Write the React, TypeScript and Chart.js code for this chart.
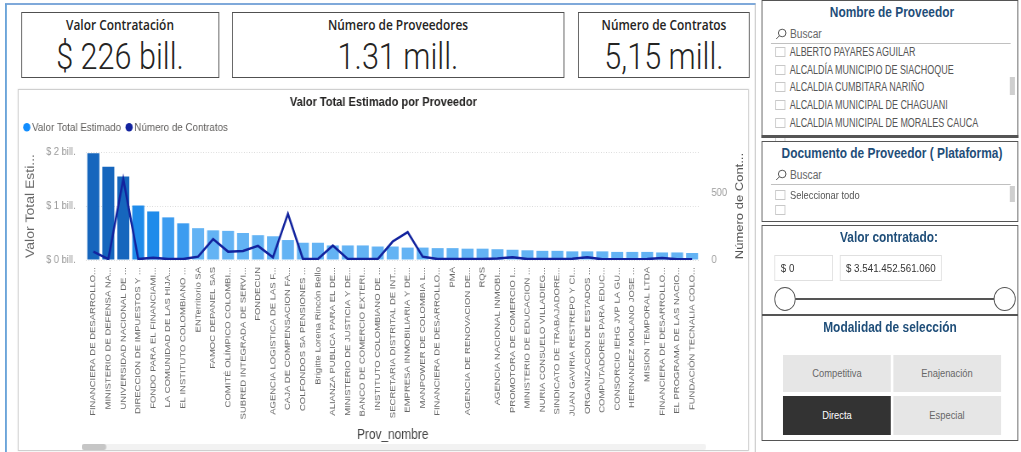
import React, { useEffect, useRef } from "react";
import { Chart, registerables } from "chart.js";
Chart.register(...registerables);

const proveedores = [
  "FINANCIERA DE DESARROLLO...",
  "MINISTERIO DE DEFENSA NA...",
  "UNIVERSIDAD NACIONAL DE ...",
  "DIRECCION DE IMPUESTOS Y ...",
  "FONDO PARA EL FINANCIAMI...",
  "LA COMUNIDAD DE LAS HIJA...",
  "EL INSTITUTO COLOMBIANO ...",
  "ENTerritorio SA",
  "FAMOC DEPANEL SAS",
  "COMITÉ OLÍMPICO COLOMBI...",
  "SUBRED INTEGRADA DE SERVI...",
  "FONDECUN",
  "AGENCIA LOGISTICA DE LAS F...",
  "CAJA DE COMPENSACION FA...",
  "COLFONDOS SA PENSIONES ...",
  "Brigitte Lorena Rincón Bello",
  "ALIANZA PUBLICA PARA EL DE...",
  "MINISTERIO DE JUSTICIA Y DE...",
  "BANCO DE COMERCIO EXTERI...",
  "INSTITUTO COLOMBIANO DE ...",
  "SECRETARIA DISTRITAL DE INT...",
  "EMPRESA INMOBILIARIA Y DE...",
  "MANPOWER DE COLOMBIA L...",
  "FINANCIERA DE DESARROLLO...",
  "PMA",
  "AGENCIA DE RENOVACION DE...",
  "RQS",
  "AGENCIA NACIONAL INMOBI...",
  "PROMOTORA DE COMERCIO I...",
  "MINISTERIO DE EDUCACION ...",
  "NURIA CONSUELO VILLADIEG...",
  "SINDICATO DE TRABAJADORE...",
  "JUAN GAVIRIA RESTREPO Y CI...",
  "ORGANIZACION DE ESTADOS ...",
  "COMPUTADORES PARA EDUC...",
  "CONSORCIO IEHG JVP LA GU...",
  "HERNANDEZ MOLANO JOSE ...",
  "MISION TEMPORAL LTDA",
  "FINANCIERA DE DESARROLLO...",
  "EL PROGRAMA DE LAS NACIO...",
  "FUNDACIÓN TECNALIA COLO...",
];

// Valor Total Estimado (billones)
const valorTotal = [
  1.98, 1.73, 1.55, 1.01, 0.9, 0.79, 0.68, 0.59, 0.55, 0.54, 0.5, 0.46, 0.44,
  0.37, 0.32, 0.32, 0.27, 0.27, 0.27, 0.25, 0.25, 0.23, 0.23, 0.22, 0.22, 0.21,
  0.21, 0.2, 0.19, 0.18, 0.17, 0.17, 0.16, 0.16, 0.16, 0.15, 0.15, 0.15, 0.14,
  0.14, 0.13,
];

// Número de Contratos
const numContratos = [
  62, 7, 600, 7, 17, 7, 7, 25, 155, 62, 67, 105, 20, 342, 7, 7, 107, 7, 7, 7,
  137, 207, 25, 7, 7, 7, 7, 12, 20, 7, 7, 7, 10, 20, 5, 5, 5, 7, 15, 5, 5,
];

const leftTicks = [0, 1, 2];
const rightTicks = [0, 500];

const kpiTitles = ["Valor Contratación", "Número de Proveedores", "Número de Contratos"];
const kpiValues = ["$ 226 bill.", "1.31 mill.", "5,15 mill."];

const listaProveedores = [
  "ALBERTO PAYARES AGUILAR",
  "ALCALDÍA MUNICIPIO DE SIACHOQUE",
  "ALCALDIA CUMBITARA NARIÑO",
  "ALCALDIA MUNICIPAL DE CHAGUANI",
  "ALCALDIA MUNICIPAL DE MORALES CAUCA",
];
const modalidades = ["Competitiva", "Enajenación", "Directa", "Especial"];

// the whole dashboard is laid out wide and squeezed horizontally
const K = 0.85;
const X = (v: number) => v / K;

const SANS = "'Liberation Sans', Arial, sans-serif";
const SLICER_BLUE = "#1F4E79";

const CW = 858; // canvas width (before squeeze)
const CH = 356; // canvas height

function barColor(v: number) {
  if (v >= 1.5) return "#1666BD";
  if (v >= 0.85) return "#1F8BEA";
  if (v >= 0.6) return "#3C9CF0";
  return "#63B3F4";
}

const rightTitlePlugin = {
  id: "rightTitle",
  afterDraw(chart: any) {
    const s = chart.scales.y1;
    const ca = chart.chartArea;
    const ctx = chart.ctx;
    ctx.save();
    ctx.translate(s.right - 10, (ca.top + ca.bottom) / 2);
    ctx.rotate(-Math.PI / 2);
    ctx.textAlign = "center";
    ctx.textBaseline = "middle";
    ctx.fillStyle = "#555";
    ctx.font = `13px ${SANS}`;
    ctx.fillText("Número de Cont...", 0, 0);
    ctx.restore();
  },
};

function ChartPanel() {
  const ref = useRef<HTMLCanvasElement | null>(null);
  useEffect(() => {
    if (!ref.current) return;
    const chart = new Chart(ref.current, {
      type: "bar",
      data: {
        labels: proveedores,
        datasets: [
          {
            type: "bar",
            label: "Valor Total Estimado",
            data: valorTotal,
            yAxisID: "y",
            backgroundColor: valorTotal.map(barColor),
            barPercentage: 0.8,
            categoryPercentage: 1,
            order: 2,
          } as any,
          {
            type: "line",
            label: "Número de Contratos",
            data: numContratos,
            yAxisID: "y1",
            borderColor: "#12239E",
            backgroundColor: "#12239E",
            borderWidth: 2.5,
            pointRadius: 0,
            tension: 0,
            order: 1,
          } as any,
        ],
      },
      options: {
        animation: false,
        responsive: false,
        devicePixelRatio: 1,
        layout: { padding: { left: 0, right: 0, top: 0, bottom: 0 } },
        plugins: {
          tooltip: { enabled: false },
          title: {
            display: true,
            text: "Valor Total Estimado por Proveedor",
            color: "#252423",
            font: { family: SANS, size: 13, weight: "bold" },
            padding: { top: 4, bottom: 2 },
          },
          subtitle: {
            display: true,
            text: " ",
            weight: 500,
            position: "top",
            font: { family: SANS, size: 5 },
            padding: { top: 0, bottom: 3 },
          },
          legend: {
            display: true,
            position: "top",
            align: "start",
            labels: {
              usePointStyle: true,
              pointStyle: "circle",
              boxWidth: 1,
              boxHeight: 6,
              padding: 9,
              color: "#605E5C",
              font: { family: SANS, size: 11.5 },
              sort: (a: any, b: any) => a.datasetIndex - b.datasetIndex,
              generateLabels: (c: any) => {
                const items = Chart.defaults.plugins.legend.labels.generateLabels(c);
                items.forEach((it: any) => {
                  const col = it.datasetIndex === 0 ? "#118DFF" : "#12239E";
                  it.fillStyle = col;
                  it.strokeStyle = col;
                  it.lineWidth = 0;
                });
                return items;
              },
            },
          },
        },
        scales: {
          x: {
            offset: true,
            afterFit: (a: any) => {
              a.height = 187;
            },
            grid: { display: false, drawTicks: false },
            border: { display: false },
            ticks: {
              autoSkip: false,
              maxRotation: 90,
              minRotation: 90,
              color: "#666",
              padding: 7,
              font: { family: SANS, size: 9.5 },
            },
            title: {
              display: true,
              text: "Prov_nombre",
              color: "#444",
              font: { family: SANS, size: 14 },
              padding: { top: 0, bottom: 3 },
            },
          },
          y: {
            position: "left",
            min: 0,
            max: 2,
            afterFit: (a: any) => {
              a.width = 79;
            },
            afterBuildTicks: (a: any) => {
              a.ticks = leftTicks.map((v) => ({ value: v }));
            },
            ticks: {
              color: "#999",
              padding: 12,
              font: { family: SANS, size: 11 },
              callback: (v: any) => `$ ${v} bill.`,
            },
            grid: { color: "#d9d9d9", drawTicks: false, lineWidth: 1 },
            border: { display: false, dash: [1, 2] },
            title: {
              display: true,
              text: "Valor Total Esti...",
              color: "#666",
              font: { family: SANS, size: 14 },
              padding: { top: 6, bottom: 0 },
            },
          },
          y1: {
            position: "right",
            min: 0,
            max: 800,
            afterBuildTicks: (a: any) => {
              a.ticks = rightTicks.map((v) => ({ value: v }));
            },
            afterFit: (a: any) => {
              a.width = 57;
            },
            ticks: {
              color: "#999",
              padding: 14,
              font: { family: SANS, size: 11 },
            },
            grid: { display: false, drawTicks: false },
            border: { display: false },
          },
        },
      } as any,
      plugins: [rightTitlePlugin],
    });
    return () => chart.destroy();
  }, []);
  return (
    <canvas
      ref={ref}
      width={CW}
      height={CH}
      style={{ position: "absolute", left: X(19), top: 91, width: CW, height: CH }}
    />
  );
}

function Checkbox({ top, left }: { top: number; left: number }) {
  return (
    <div
      style={{
        position: "absolute",
        left: X(left),
        top,
        width: X(10),
        height: 10,
        border: "1px solid #c8c8c8",
        boxSizing: "border-box",
        background: "#fff",
      }}
    />
  );
}

function SearchRow({ top }: { top: number }) {
  return (
    <>
      <svg
        style={{ position: "absolute", left: X(775), top: top - 6 }}
        width={X(12)}
        height="12"
        viewBox="0 0 12 12"
        preserveAspectRatio="none"
      >
        <circle cx="7" cy="5" r="3.8" fill="none" stroke="#555" strokeWidth="1" />
        <line x1="4.2" y1="7.8" x2="1" y2="11" stroke="#555" strokeWidth="1" />
      </svg>
      <div
        style={{
          position: "absolute",
          left: X(790),
          top: top - 8,
          fontFamily: SANS,
          fontSize: 12,
          color: "#666",
          lineHeight: "16px",
        }}
      >
        Buscar
      </div>
      <div
        style={{
          position: "absolute",
          left: X(771),
          top: top + 9,
          width: X(240),
          height: 1,
          background: "#c0c0c0",
        }}
      />
    </>
  );
}

function Panel({ left, top, width, height }: any) {
  return (
    <div
      style={{
        position: "absolute",
        left: X(left),
        top,
        width: X(width),
        height,
        border: "1.5px solid #555",
        boxSizing: "border-box",
        background: "#fff",
      }}
    />
  );
}

function CenterText({ cx, cy, text, style }: any) {
  return (
    <div
      style={{
        position: "absolute",
        left: X(cx) - 250,
        width: 500,
        top: cy - 12,
        height: 24,
        lineHeight: "24px",
        textAlign: "center",
        whiteSpace: "nowrap",
        ...style,
      }}
    >
      {text}
    </div>
  );
}

export default function App() {
  useEffect(() => {
    document.body.style.margin = "0";
  }, []);
  const cards = [
    { left: 21, width: 198 },
    { left: 232, width: 332 },
    { left: 578, width: 172 },
  ];
  const titleStyle = {
    fontFamily: SANS,
    fontWeight: "bold",
    fontSize: 14,
    color: SLICER_BLUE,
  };
  const itemStyle = { fontFamily: SANS, fontSize: 11, color: "#555" };
  return (
    <div
      style={{
        position: "absolute",
        left: 0,
        top: 0,
        width: X(1021),
        height: 452,
        overflow: "hidden",
        background: "#fff",
        transform: `scaleX(${K})`,
        transformOrigin: "0 0",
      }}
    >
      {/* left frame */}
      <div
        style={{
          position: "absolute",
          left: X(5),
          top: 3,
          width: X(751),
          height: 470,
          borderLeft: "2px solid #5B9BD5",
          borderTop: "2px solid #7FA9DA",
          borderRight: "1px solid #b8b8b8",
          boxSizing: "border-box",
        }}
      />
      {/* KPI cards */}
      {cards.map((c, i) => (
        <div
          key={i}
          style={{
            position: "absolute",
            left: X(c.left),
            top: 12,
            width: X(c.width),
            height: 66,
            border: "1.5px solid #505050",
            boxSizing: "border-box",
            overflow: "hidden",
            background: "#fff",
          }}
        >
          <div
            style={{
              position: "absolute",
              left: 0,
              right: 0,
              top: 3,
              textAlign: "center",
              fontFamily: "'Open Sans', sans-serif",
              fontWeight: 600,
              fontSize: 14,
              color: "#252423",
              lineHeight: "18px",
            }}
          >
            {kpiTitles[i]}
          </div>
          <div
            style={{
              position: "absolute",
              left: 0,
              right: 0,
              top: 22,
              textAlign: "center",
              lineHeight: "44px",
              fontFamily: "Roboto, 'Open Sans', sans-serif",
              fontWeight: 300,
              fontSize: 36,
              color: "#252423",
            }}
          >
            {kpiValues[i]}
          </div>
        </div>
      ))}
      {/* chart panel */}
      <div
        style={{
          position: "absolute",
          left: X(18),
          top: 89,
          width: X(731),
          height: 362,
          border: "1px solid #cfcfcf",
          boxSizing: "border-box",
          boxShadow: "0 0 2px rgba(0,0,0,0.12)",
          background: "#fff",
        }}
      />
      <ChartPanel />
      {/* scrollbar */}
      <div
        style={{
          position: "absolute",
          left: X(82),
          top: 444,
          width: X(624),
          height: 6,
          background: "#f2f2f2",
          borderRadius: 3,
        }}
      />
      <div
        style={{
          position: "absolute",
          left: X(82),
          top: 444,
          width: X(24),
          height: 6,
          background: "#c6c6c6",
          borderRadius: 3,
        }}
      />

      {/* Slicer 1 */}
      <Panel left={762} top={0} width={256} height={138} />
      <CenterText cx={892} cy={12} text="Nombre de Proveedor" style={titleStyle} />
      <SearchRow top={34} />
      {listaProveedores.map((t, i) => (
        <React.Fragment key={i}>
          <Checkbox left={775} top={47 + i * 17.7} />
          <div
            style={{
              position: "absolute",
              left: X(790),
              top: 44 + i * 17.7,
              lineHeight: "16px",
              whiteSpace: "nowrap",
              fontFamily: SANS,
              fontSize: 12,
              color: "#555",
              transform: "scaleX(0.88)",
              transformOrigin: "0 0",
            }}
          >
            {t}
          </div>
        </React.Fragment>
      ))}
      <Checkbox left={775} top={47 + 5 * 17.7} />
      <div
        style={{
          position: "absolute",
          left: X(1010),
          top: 77,
          width: X(5),
          height: 18,
          background: "#cfcfcf",
        }}
      />
      <div
        style={{
          position: "absolute",
          left: X(762),
          top: 135,
          width: X(256),
          height: 3,
          background: "#555",
        }}
      />

      {/* Slicer 2 */}
      <Panel left={762} top={141} width={256} height={81} />
      <CenterText
        cx={892}
        cy={153}
        text="Documento de Proveedor ( Plataforma)"
        style={titleStyle}
      />
      <SearchRow top={175} />
      <Checkbox left={775} top={190} />
      <div
        style={{
          position: "absolute",
          left: X(790),
          top: 188,
          lineHeight: "15px",
          whiteSpace: "nowrap",
          ...itemStyle,
        }}
      >
        Seleccionar todo
      </div>
      <Checkbox left={775} top={205} />
      <div
        style={{
          position: "absolute",
          left: X(1010),
          top: 186,
          width: X(5),
          height: 16,
          background: "#cfcfcf",
        }}
      />

      {/* Slicer 3 */}
      <Panel left={762} top={225} width={256} height={90} />
      <CenterText cx={889} cy={237} text="Valor contratado:" style={titleStyle} />
      <div
        style={{
          position: "absolute",
          left: X(774),
          top: 255,
          width: X(59),
          height: 26,
          border: "1px solid #e0e0e0",
          boxSizing: "border-box",
          fontFamily: SANS,
          fontSize: 11.5,
          color: "#333",
          lineHeight: "24px",
          paddingLeft: 7,
          whiteSpace: "nowrap",
        }}
      >
        $ 0
      </div>
      <div
        style={{
          position: "absolute",
          left: X(840),
          top: 255,
          width: X(102),
          height: 26,
          border: "1px solid #e0e0e0",
          boxSizing: "border-box",
          fontFamily: SANS,
          fontSize: 11.5,
          color: "#333",
          lineHeight: "24px",
          paddingLeft: 6,
          whiteSpace: "nowrap",
        }}
      >
        $ 3.541.452.561.060
      </div>
      <div
        style={{
          position: "absolute",
          left: X(785),
          top: 298,
          width: X(220),
          height: 2,
          background: "#555",
        }}
      />
      {[785, 1005].map((x, i) => (
        <div
          key={i}
          style={{
            position: "absolute",
            left: X(x - 11),
            top: 299 - 12,
            width: X(22),
            height: 24,
            borderRadius: "50%",
            border: "1.5px solid #555",
            boxSizing: "border-box",
            background: "#fff",
          }}
        />
      ))}

      {/* Slicer 4 */}
      <Panel left={762} top={315} width={256} height={126} />
      <CenterText cx={890} cy={327} text="Modalidad de selección" style={titleStyle} />
      {modalidades.map((m, i) => {
        const col = i % 2;
        const row = Math.floor(i / 2);
        const dark = m === "Directa";
        return (
          <div
            key={m}
            style={{
              position: "absolute",
              left: X(col === 0 ? 783 : 893),
              top: row === 0 ? 355 : 396,
              width: X(108),
              height: row === 0 ? 37 : 39,
              background: dark ? "#333333" : "#E6E6E6",
              color: dark ? "#fff" : "#666",
              fontFamily: SANS,
              fontSize: 11,
              textAlign: "center",
              lineHeight: row === 0 ? "37px" : "39px",
            }}
          >
            {m}
          </div>
        );
      })}
    </div>
  );
}
